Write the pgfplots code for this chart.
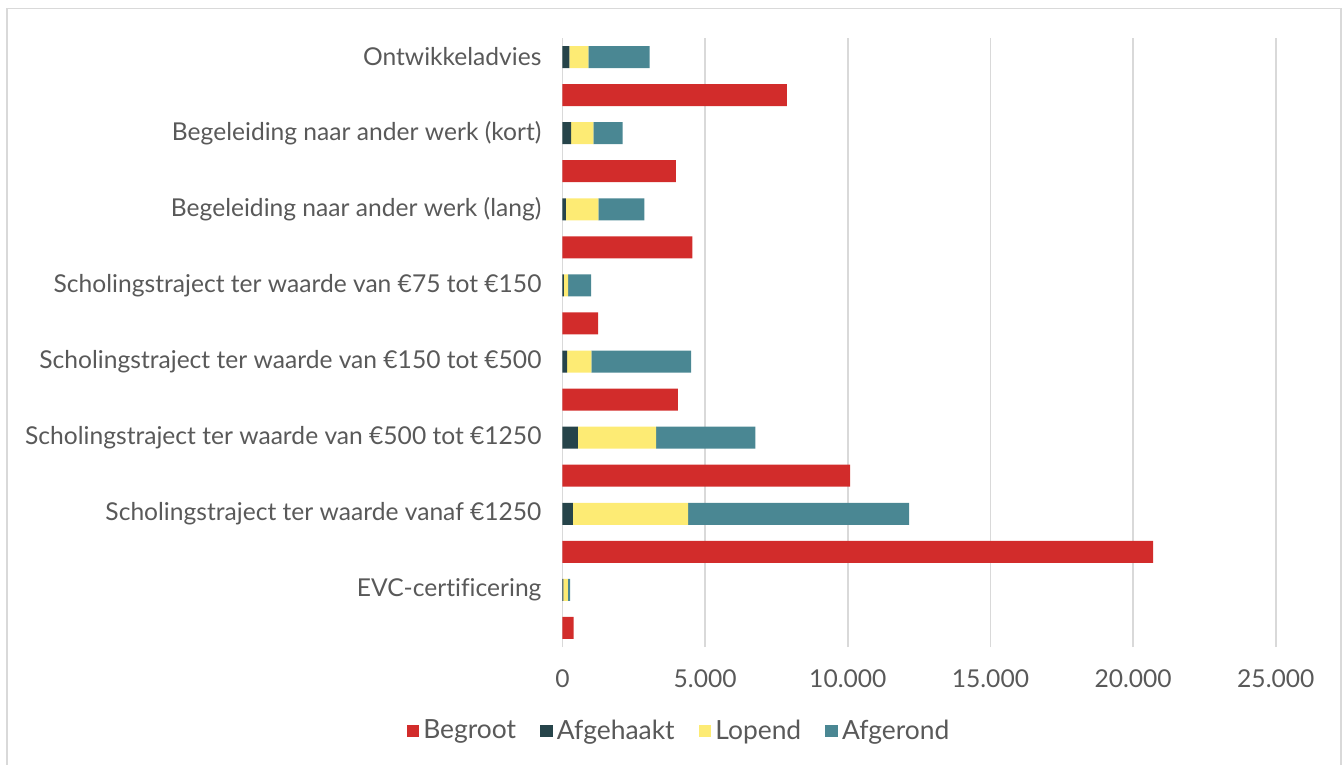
\documentclass[border=0pt]{standalone}
\usepackage{pgfplots}
\pgfplotsset{compat=1.18}
\usepackage{pgfplotstable}
\usepackage{fontspec}
\setmainfont{Lato}[Ligatures={NoCommon}]

\definecolor{begroot}{HTML}{D22C2B}
\definecolor{afgehaakt}{HTML}{26444A}
\definecolor{lopend}{HTML}{FDEB74}
\definecolor{afgerond}{HTML}{4A8793}
\definecolor{txt}{HTML}{595959}
\definecolor{gridc}{HTML}{D9D9D9}

% rows from bottom: even = Begroot, odd = stacked realisatie
\pgfplotstableread{
y  beg    afh  lop   afr
0  390    0    0     0
1  0      30   160   80
2  20700  0    0     0
3  0      360  4040  7750
4  10080  0    0     0
5  0      540  2740  3480
6  4040   0    0     0
7  0      160  850   3500
8  1250   0    0     0
9  0      50   150   800
10 4550   0    0     0
11 0      120  1135  1615
12 3970   0    0     0
13 0      300  780   1030
14 7860   0    0     0
15 0      240  665   2150
}\data

\begin{document}
\begin{tikzpicture}
\begin{axis}[
    at={(0,0)}, anchor=south west,
    scale only axis,
    width=356.65pt, height=304.5pt,
    xbar stacked,
    bar width=11pt,
    xmin=0, xmax=25000,
    ymin=-0.5, ymax=15.5,
    axis line style={draw=none},
    xmajorgrids,
    grid style={gridc, line width=0.8pt},
    xtick={0,5000,...,25000},
    scaled x ticks=false,
    ytick={1,3,...,15},
    yticklabels={
        EVC-certificering,
        Scholingstraject ter waarde vanaf €1250,
        Scholingstraject ter waarde van €500 tot €1250,
        Scholingstraject ter waarde van €150 tot €500,
        Scholingstraject ter waarde van €75 tot €150,
        Begeleiding naar ander werk (lang),
        Begeleiding naar ander werk (kort),
        Ontwikkeladvies},
    major tick length=0pt,
    tick label style={font=\fontsize{12.3}{14}\selectfont, text=txt},
    yticklabel style={xshift=-7pt},
    xticklabel style={yshift=-8pt},
    /pgf/number format/.cd, fixed, 1000 sep={.}, assume math mode=true,
    /pgfplots/.cd,
    legend style={at={(58.75pt,-42pt)}, anchor=center, draw=none,
        legend columns=-1, font=\fontsize{13.2}{15}\selectfont, text=txt,
        /tikz/every even column/.append style={column sep=10pt}},
    legend image code/.code={\fill[#1] (0pt,-3.2pt) rectangle (6.4pt,3.2pt);},
]
\addplot[fill=begroot, draw=none] table[x=beg, y=y] {\data};
\addplot[fill=afgehaakt, draw=none] table[x=afh, y=y] {\data};
\addplot[fill=lopend, draw=none] table[x=lop, y=y] {\data};
\addplot[fill=afgerond, draw=none] table[x=afr, y=y] {\data};
\legend{Begroot, Afgehaakt, Lopend, Afgerond}
\end{axis}
\draw[gridc, line width=0.8pt] (-277.75pt,-70pt) -- (-277.75pt,319.25pt) -- (389.25pt,319.25pt) -- (389.25pt,-70pt);
\pgfresetboundingbox
\useasboundingbox (-281.25pt,-59pt) rectangle (390.25pt,323.5pt);
\end{tikzpicture}
\end{document}
